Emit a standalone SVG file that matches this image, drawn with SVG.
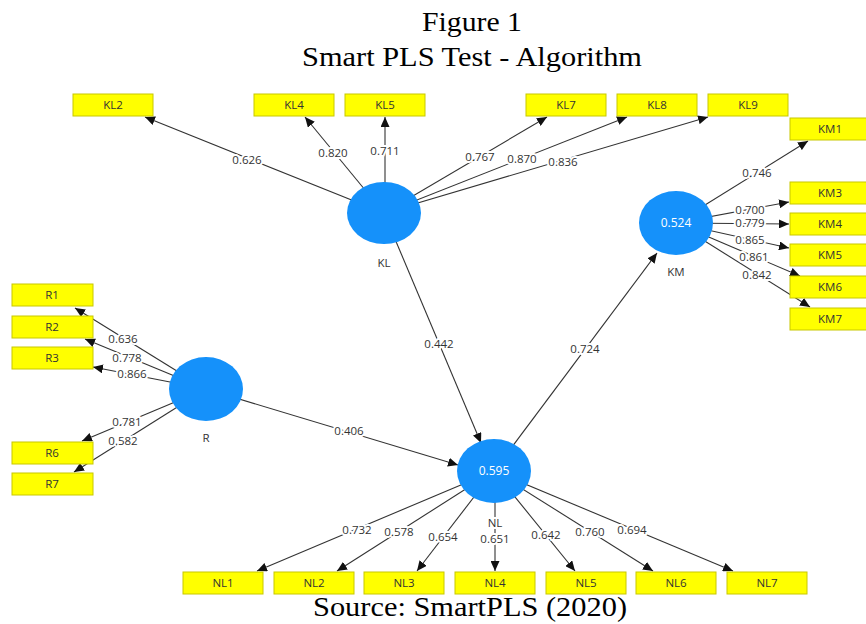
<svg xmlns="http://www.w3.org/2000/svg" width="866" height="624" viewBox="0 0 866 624">
<defs>
<marker id="arr" markerUnits="userSpaceOnUse" markerWidth="11" markerHeight="9" refX="10" refY="4.5" orient="auto">
<path d="M0,0 L10,4.5 L0,9 z" fill="#111"/>
</marker>
<style>
.title{font-family:"Liberation Serif",serif;font-size:28px;fill:#000;text-anchor:middle}
.box{fill:#ffff00;stroke:#c8c800;stroke-width:1}
.bt{font-family:"Open Sans","Noto Sans",sans-serif;font-size:11.5px;fill:#333;text-anchor:middle}
.lv{fill:#1591fa}
.lvt{font-family:"Open Sans","Noto Sans",sans-serif;font-size:12px;fill:#fff;text-anchor:middle}
.lvl{font-family:"Open Sans","Noto Sans",sans-serif;font-size:11.5px;fill:#333;text-anchor:middle;stroke:#fff;stroke-width:4;paint-order:stroke}
.c line{stroke:#333;stroke-width:1.1;marker-end:url(#arr)}
.w{font-family:"Open Sans","Noto Sans",sans-serif;font-size:11.5px;fill:#333;text-anchor:middle;stroke:#fff;stroke-width:4;paint-order:stroke;stroke-linejoin:round}
</style>
</defs>
<rect width="866" height="624" fill="#fff"/>
<text class="title" x="472" y="31" textLength="100" lengthAdjust="spacingAndGlyphs">Figure 1</text>
<text class="title" x="472" y="66" textLength="340" lengthAdjust="spacingAndGlyphs">Smart PLS Test - Algorithm</text>

<g id="connectors" class="c">
<line x1="384" y1="213" x2="145" y2="117"/>
<line x1="384" y1="213" x2="305" y2="117"/>
<line x1="385" y1="213" x2="385" y2="117"/>
<line x1="384" y1="213" x2="547" y2="117"/>
<line x1="384" y1="213" x2="627" y2="117"/>
<line x1="384" y1="213" x2="708" y2="117"/>
<line x1="384" y1="213" x2="481" y2="443"/>
<line x1="206" y1="389" x2="458" y2="465"/>
<line x1="494" y1="471" x2="657" y2="253"/>
<line x1="676" y1="223" x2="808" y2="141"/>
<line x1="676" y1="223" x2="789" y2="202"/>
<line x1="676" y1="223" x2="789" y2="224"/>
<line x1="676" y1="223" x2="789" y2="248"/>
<line x1="676" y1="223" x2="800" y2="276"/>
<line x1="676" y1="223" x2="810" y2="307"/>
<line x1="206" y1="389" x2="75" y2="308"/>
<line x1="206" y1="389" x2="85" y2="339"/>
<line x1="206" y1="389" x2="93" y2="367"/>
<line x1="206" y1="389" x2="82" y2="441"/>
<line x1="206" y1="389" x2="74" y2="472"/>
<line x1="494" y1="471" x2="257" y2="571"/>
<line x1="494" y1="471" x2="337" y2="571"/>
<line x1="494" y1="471" x2="417" y2="571"/>
<line x1="495" y1="471" x2="495" y2="571"/>
<line x1="494" y1="471" x2="575" y2="571"/>
<line x1="494" y1="471" x2="653" y2="571"/>
<line x1="494" y1="471" x2="733" y2="571"/>
<g id="connector-labels">
<text class="w" x="247" y="164">0.626</text>
<text class="w" x="333" y="157">0.820</text>
<text class="w" x="385" y="155">0.711</text>
<text class="w" x="480" y="161">0.767</text>
<text class="w" x="522" y="163">0.870</text>
<text class="w" x="563" y="166">0.836</text>
<text class="w" x="439" y="348">0.442</text>
<text class="w" x="349" y="435">0.406</text>
<text class="w" x="585" y="353">0.724</text>
<text class="w" x="757" y="177">0.746</text>
<text class="w" x="750" y="214">0.700</text>
<text class="w" x="750" y="227">0.779</text>
<text class="w" x="750" y="244">0.865</text>
<text class="w" x="754" y="261">0.861</text>
<text class="w" x="757" y="279">0.842</text>
<text class="w" x="123" y="343">0.636</text>
<text class="w" x="127" y="362">0.778</text>
<text class="w" x="132" y="378">0.866</text>
<text class="w" x="127" y="426">0.781</text>
<text class="w" x="123" y="445">0.582</text>
<text class="w" x="357" y="534">0.732</text>
<text class="w" x="399" y="536">0.578</text>
<text class="w" x="443" y="541">0.654</text>
<text class="w" x="495" y="543">0.651</text>
<text class="w" x="546" y="539">0.642</text>
<text class="w" x="590" y="536">0.760</text>
<text class="w" x="632" y="534">0.694</text>
</g>
</g>

<g id="KL"><ellipse class="lv" cx="384" cy="213" rx="37" ry="31"/><text class="lvl" x="384" y="267">KL</text></g>
<g id="KM"><ellipse class="lv" cx="676" cy="223" rx="37" ry="32"/><text class="lvt" x="676" y="227">0.524</text><text class="lvl" x="676" y="276">KM</text></g>
<g id="R"><ellipse class="lv" cx="206" cy="389" rx="37" ry="32"/><text class="lvl" x="206" y="442">R</text></g>
<g id="NL"><ellipse class="lv" cx="494" cy="471" rx="37" ry="32"/><text class="lvt" x="494" y="475">0.595</text><text class="lvl" x="495" y="527">NL</text></g>

<g id="KL2"><rect class="box" x="73" y="94" width="80" height="22"/><text class="bt" x="113" y="109">KL2</text></g>
<g id="KL4"><rect class="box" x="254" y="94" width="80" height="22"/><text class="bt" x="294" y="109">KL4</text></g>
<g id="KL5"><rect class="box" x="345" y="94" width="80" height="22"/><text class="bt" x="385" y="109">KL5</text></g>
<g id="KL7"><rect class="box" x="526" y="94" width="80" height="22"/><text class="bt" x="566" y="109">KL7</text></g>
<g id="KL8"><rect class="box" x="617" y="94" width="80" height="22"/><text class="bt" x="657" y="109">KL8</text></g>
<g id="KL9"><rect class="box" x="708" y="94" width="80" height="22"/><text class="bt" x="748" y="109">KL9</text></g>

<g id="KM1"><rect class="box" x="790" y="118" width="80" height="22"/><text class="bt" x="830" y="133">KM1</text></g>
<g id="KM3"><rect class="box" x="790" y="182" width="80" height="22"/><text class="bt" x="830" y="197">KM3</text></g>
<g id="KM4"><rect class="box" x="790" y="213" width="80" height="22"/><text class="bt" x="830" y="228">KM4</text></g>
<g id="KM5"><rect class="box" x="790" y="244" width="80" height="22"/><text class="bt" x="830" y="259">KM5</text></g>
<g id="KM6"><rect class="box" x="790" y="276" width="80" height="22"/><text class="bt" x="830" y="291">KM6</text></g>
<g id="KM7"><rect class="box" x="790" y="308" width="80" height="22"/><text class="bt" x="830" y="323">KM7</text></g>

<g id="R1"><rect class="box" x="12" y="284" width="81" height="22"/><text class="bt" x="52" y="299">R1</text></g>
<g id="R2"><rect class="box" x="12" y="316" width="81" height="22"/><text class="bt" x="52" y="331">R2</text></g>
<g id="R3"><rect class="box" x="12" y="347" width="81" height="22"/><text class="bt" x="52" y="362">R3</text></g>
<g id="R6"><rect class="box" x="12" y="442" width="81" height="22"/><text class="bt" x="52" y="457">R6</text></g>
<g id="R7"><rect class="box" x="12" y="473" width="81" height="22"/><text class="bt" x="52" y="488">R7</text></g>

<g id="NL1"><rect class="box" x="183" y="572" width="80" height="22"/><text class="bt" x="223" y="587">NL1</text></g>
<g id="NL2"><rect class="box" x="274" y="572" width="80" height="22"/><text class="bt" x="314" y="587">NL2</text></g>
<g id="NL3"><rect class="box" x="364" y="572" width="80" height="22"/><text class="bt" x="404" y="587">NL3</text></g>
<g id="NL4"><rect class="box" x="455" y="572" width="80" height="22"/><text class="bt" x="495" y="587">NL4</text></g>
<g id="NL5"><rect class="box" x="546" y="572" width="80" height="22"/><text class="bt" x="586" y="587">NL5</text></g>
<g id="NL6"><rect class="box" x="636" y="572" width="80" height="22"/><text class="bt" x="676" y="587">NL6</text></g>
<g id="NL7"><rect class="box" x="727" y="572" width="80" height="22"/><text class="bt" x="767" y="587">NL7</text></g>

<text class="title" x="470" y="616" textLength="314" lengthAdjust="spacingAndGlyphs">Source: SmartPLS (2020)</text>
</svg>
